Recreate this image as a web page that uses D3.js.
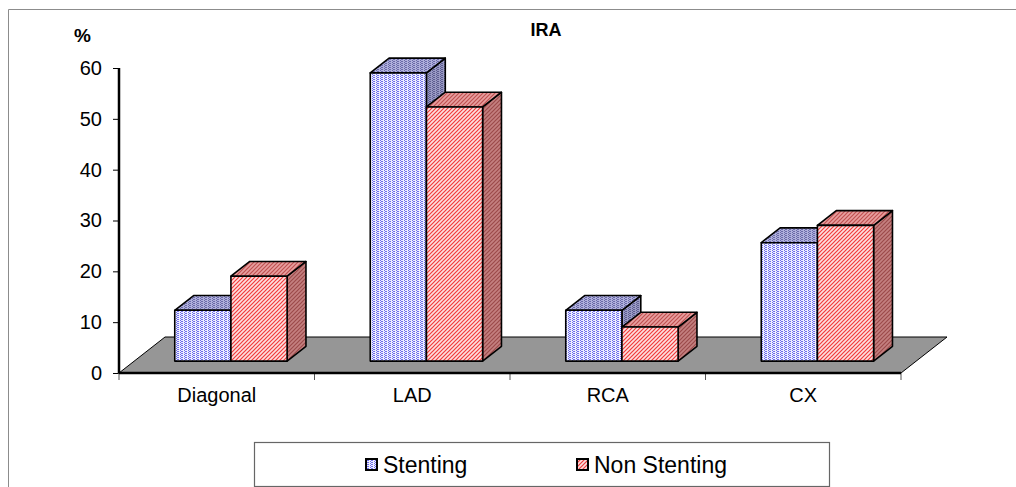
<!DOCTYPE html>
<html>
<head>
<meta charset="utf-8">
<script src="https://cdn.jsdelivr.net/npm/d3@7"></script>
<style>
  body { margin: 0; background: #fff; }
  svg { display: block; font-family: Arial, "Liberation Sans", sans-serif; }
</style>
</head>
<body>
<svg id="chart"></svg>
<script>
// data (percent of each group)
const categories = ["Diagonal", "LAD", "RCA", "CX"];
const series = ["Stenting", "Non Stenting"];
const stenting = [10, 56.7, 10, 23.3];
const nonStenting = [16.7, 50, 6.7, 26.7];
const yTicks = [0, 10, 20, 30, 40, 50, 60];

const width = 1016, height = 487;
let marginLeft = 119;   // y axis position
let plotRight = 901;    // end of x axis
let yTop = 68, yBottom = 373;
let depthX = 46, depthY = -36;   // floor depth vector
let barFrontAt = 0.33, barBackAt = 0.74; // fraction of floor depth

const svg = d3.select("#chart")
    .attr("width", width)
    .attr("height", height)
    .attr("viewBox", [0, 0, width, height]);

// fill patterns imitating the old office textures
const defs = svg.append("defs");
function dotPattern(id, bg, fg) {
    const p = defs.append("pattern").attr("id", id)
        .attr("patternUnits", "userSpaceOnUse").attr("width", 4).attr("height", 4);
    p.append("rect").attr("width", 4).attr("height", 4).attr("fill", bg);
    [[0, 0], [2, 1], [0, 2], [2, 3], [1, 1], [1, 3]].forEach(([a, b]) =>
        p.append("rect").attr("x", a).attr("y", b).attr("width", 1).attr("height", 1).attr("fill", fg));
}
function hatchPattern(id, bg, fg) {
    const p = defs.append("pattern").attr("id", id)
        .attr("patternUnits", "userSpaceOnUse").attr("width", 4).attr("height", 4);
    p.append("rect").attr("width", 4).attr("height", 4).attr("fill", bg);
    p.append("path").attr("d", "M-1,1 L1,-1 M0,4 L4,0 M3,5 L5,3")
        .attr("stroke", fg).attr("stroke-width", 1.2);
}
dotPattern("blueFront", "#eeeeff", "#6e6eec");
dotPattern("blueTop", "#b0b0dc", "#6a6aa8");
dotPattern("blueSide", "#9a9ac4", "#5c5c90");
hatchPattern("redFront", "#fde0e0", "#f23a3a");
hatchPattern("redTop", "#e8a0a0", "#c05050");
hatchPattern("redSide", "#c48080", "#9c4a4a");

const fills = {
    "Stenting": {front: "url(#blueFront)", top: "url(#blueTop)", side: "url(#blueSide)"},
    "Non Stenting": {front: "url(#redFront)", top: "url(#redTop)", side: "url(#redSide)"}
};

// outer frame (only top and left edges visible)
svg.append("path")
    .attr("d", `M8.5,${height} V9.5 H${width}`)
    .attr("fill", "none").attr("stroke", "#8c8c8c").attr("stroke-width", 1);

// scales
const x = d3.scaleBand(categories, [marginLeft, plotRight]);
const xInner = d3.scaleBand(series, [0, x.bandwidth()]).paddingInner(0).paddingOuter(0.74);
const y = d3.scaleLinear([0, 60], [yBottom, yTop]);

// floor
svg.append("path")
    .attr("d", `M${marginLeft},${yBottom} L${plotRight},${yBottom} L${plotRight + depthX},${yBottom + depthY} L${marginLeft + depthX},${yBottom + depthY} Z`)
    .attr("fill", "#969696").attr("stroke", "#000").attr("stroke-width", 1);

// bars
const rows = [];
categories.forEach((c, i) => {
    rows.push({cat: c, s: "Stenting", v: stenting[i]});
    rows.push({cat: c, s: "Non Stenting", v: nonStenting[i]});
});
const fx = depthX * barFrontAt, fy = depthY * barFrontAt;
const bx = depthX * (barBackAt - barFrontAt), by = depthY * (barBackAt - barFrontAt);

const bars = svg.append("g")
    .attr("stroke", "#000").attr("stroke-width", 1.6).attr("stroke-linejoin", "round")
    .selectAll("g").data(rows).join("g");

bars.each(function(d) {
    const g = d3.select(this);
    const x0 = x(d.cat) + xInner(d.s) + fx - 1;
    const x1 = x0 + xInner.bandwidth();
    const yb = y(0) + fy;
    const yt = y(d.v) + fy;
    g.append("path") // side
        .attr("d", `M${x1},${yb} L${x1 + bx},${yb + by} L${x1 + bx},${yt + by} L${x1},${yt} Z`)
        .attr("fill", fills[d.s].side);
    g.append("path") // top
        .attr("d", `M${x0},${yt} L${x0 + bx},${yt + by} L${x1 + bx},${yt + by} L${x1},${yt} Z`)
        .attr("fill", fills[d.s].top);
    g.append("rect") // front
        .attr("x", x0).attr("y", yt)
        .attr("width", x1 - x0).attr("height", yb - yt)
        .attr("fill", fills[d.s].front);
});

// y axis
svg.append("g")
    .attr("transform", `translate(${marginLeft},0)`)
    .call(d3.axisLeft(y).tickValues(yTicks).tickSize(6).tickPadding(11))
    .call(g => g.select(".domain").attr("stroke-width", 2.5).attr("d", `M0,${yTop}V${yBottom}`))
    .call(g => g.selectAll(".tick line").attr("stroke-width", 1))
    .call(g => g.selectAll(".tick text").attr("font-size", 20).attr("font-family", null).attr("fill", "#000"));

// x axis: thick baseline, category labels, boundary ticks
svg.append("g")
    .attr("transform", `translate(0,${yBottom})`)
    .call(d3.axisBottom(x).tickSize(0).tickPadding(15))
    .call(g => g.select(".domain").remove())
    .call(g => g.selectAll(".tick text").attr("font-size", 20).attr("font-family", null).attr("fill", "#000"));

svg.append("g")
    .attr("stroke", "#555").attr("stroke-width", 1)
    .selectAll("line")
    .data(d3.range(categories.length + 1))
    .join("line")
    .attr("x1", i => marginLeft + i * x.step()).attr("x2", i => marginLeft + i * x.step())
    .attr("y1", yBottom).attr("y2", yBottom + 7);

svg.append("line")
    .attr("x1", marginLeft).attr("x2", plotRight)
    .attr("y1", yBottom).attr("y2", yBottom)
    .attr("stroke", "#000").attr("stroke-width", 2.5);

// titles
svg.append("text")
    .attr("x", 546).attr("y", 36)
    .attr("text-anchor", "middle").attr("font-weight", "bold").attr("font-size", 18)
    .text("IRA");
svg.append("text")
    .attr("x", 74).attr("y", 42)
    .attr("font-weight", "bold").attr("font-size", 19)
    .text("%");

// legend
const legend = svg.append("g");
legend.append("rect")
    .attr("x", 254.5).attr("y", 442.5).attr("width", 575).attr("height", 44)
    .attr("fill", "#fff").attr("stroke", "#666").attr("stroke-width", 1.2);
const legendX = [366, 577];
const items = legend.selectAll("g.item").data(series).join("g").attr("class", "item")
    .attr("transform", (d, i) => `translate(${legendX[i]},459)`);
items.append("rect")
    .attr("width", 11).attr("height", 11)
    .attr("fill", d => fills[d].front)
    .attr("stroke", "#000").attr("stroke-width", 2);
items.append("text")
    .attr("x", 17).attr("y", 14)
    .attr("font-size", 23)
    .text(d => d);
</script>
</body>
</html>
